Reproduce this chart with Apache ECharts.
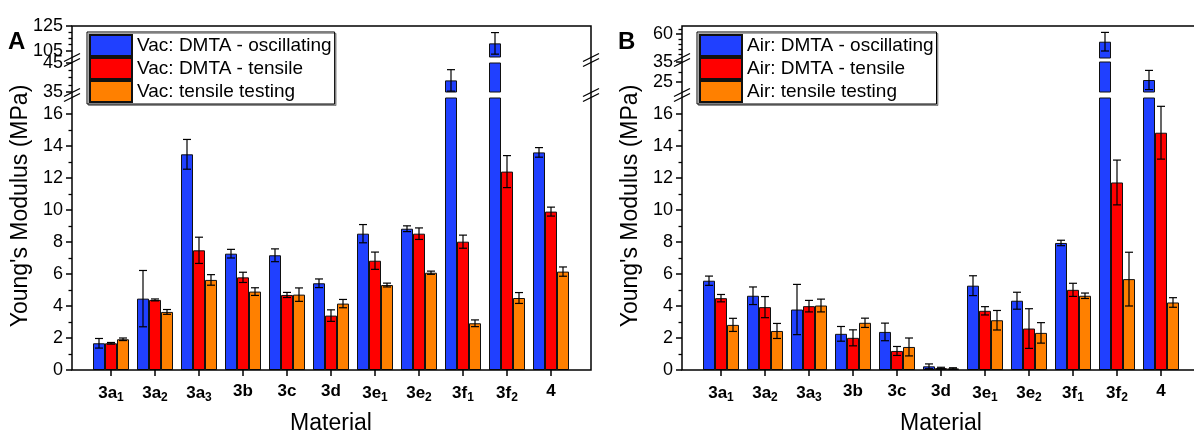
<!DOCTYPE html>
<html>
<head>
<meta charset="utf-8">
<script src="https://cdn.jsdelivr.net/npm/echarts@6/dist/echarts.min.js"></script>
<style>
html, body { margin: 0; padding: 0; background: #fff; }
#chart { width: 1194px; height: 435px; }
</style>
</head>
<body>
<div id="chart"></div>
<script>
// categories, '_' marks a subscript
const categories = ['3a_1', '3a_2', '3a_3', '3b', '3c', '3d', '3e_1', '3e_2', '3f_1', '3f_2', '4'];

// panel A (vacuum)
const vacNames = ['Vac: DMTA - oscillating', 'Vac: DMTA - tensile', 'Vac: tensile testing'];
const vacOsc = [1.67, 4.46, 13.48, 7.27, 7.17, 5.42, 8.52, 8.83, 39.0, 111.0, 13.6];
const vacOscErr = [0.30, 1.76, 0.93, 0.27, 0.40, 0.27, 0.57, 0.18, 3.7, 8.7, 0.30];
const vacTen = [1.67, 4.38, 7.48, 5.79, 4.69, 3.40, 6.83, 8.52, 8.02, 12.4, 9.90];
const vacTenErr = [0.05, 0.06, 0.82, 0.32, 0.16, 0.36, 0.54, 0.36, 0.41, 1.00, 0.28];
const vacTest = [1.92, 3.63, 5.63, 4.90, 4.71, 4.15, 5.31, 6.08, 2.92, 4.50, 6.15];
const vacTestErr = [0.08, 0.15, 0.33, 0.24, 0.42, 0.26, 0.12, 0.10, 0.21, 0.34, 0.29];

// panel B (air)
const airNames = ['Air: DMTA - oscillating', 'Air: DMTA - tensile', 'Air: tensile testing'];
const airOsc = [5.58, 4.64, 3.78, 2.26, 2.38, 0.23, 5.27, 4.33, 7.94, 52.3, 26.0];
const airOscErr = [0.29, 0.55, 1.57, 0.46, 0.55, 0.15, 0.62, 0.53, 0.17, 9.3, 4.8];
const airTen = [4.49, 3.93, 3.99, 2.01, 1.19, 0.12, 3.70, 2.59, 5.01, 11.72, 14.83];
const airTenErr = [0.23, 0.66, 0.36, 0.50, 0.28, 0.05, 0.26, 1.24, 0.41, 1.40, 1.65];
const airTest = [2.82, 2.44, 4.03, 2.95, 1.44, 0.10, 3.11, 2.32, 4.64, 5.68, 4.22];
const airTestErr = [0.41, 0.47, 0.40, 0.29, 0.56, 0.04, 0.61, 0.64, 0.17, 1.68, 0.30];

// broken y axis pieces, bottom to top: range, labelled ticks, minor ticks
const lowTicks = [0, 2, 4, 6, 8, 10, 12, 14, 16];
const lowMinor = [1, 3, 5, 7, 9, 11, 13, 15];
const vacRanges = [[0, 17], [35, 45], [100, 125]];
const vacTicks = [lowTicks, [35, 45], [105, 125]];
const vacMinor = [lowMinor, [37.5, 40, 42.5], [110, 115, 120]];
const airRanges = [[0, 17], [20, 35], [36, 68]];
const airTicks = [lowTicks, [25, 35], [60]];
const airMinor = [lowMinor, [30], [40, 45, 50, 55, 65]];

const colors = ['#2040ff', '#ff0000', '#ff8000'];
const font = 'Liberation Sans, Arial, sans-serif';
const barWidth = 12;

const panels = [
    {
        letter: 'A', axisX: 72, names: vacNames,
        values: [vacOsc, vacTen, vacTest], errors: [vacOscErr, vacTenErr, vacTestErr],
        ranges: vacRanges, ticks: vacTicks, minor: vacMinor,
        boxes: [{top: 98, height: 272}, {top: 63, height: 29}, {top: 26, height: 31}],
    },
    {
        letter: 'B', axisX: 682, names: airNames,
        values: [airOsc, airTen, airTest], errors: [airOscErr, airTenErr, airTestErr],
        ranges: airRanges, ticks: airTicks, minor: airMinor,
        boxes: [{top: 98, height: 272}, {top: 62, height: 30}, {top: 26, height: 32}],
    },
];

function errorRenderer(k) {
    return function (params, api) {
        let i = api.value(0), v = api.value(1), e = api.value(2);
        let top = api.coord([i, v + e]);
        let bot = api.coord([i, v - e]);
        let x = top[0] + (k - 1) * barWidth;
        let style = {stroke: '#000', lineWidth: 1.2};
        return {
            type: 'group',
            children: [
                {type: 'line', shape: {x1: x, y1: top[1], x2: x, y2: bot[1]}, style: style},
                {type: 'line', shape: {x1: x - 4, y1: top[1], x2: x + 4, y2: top[1]}, style: style},
                {type: 'line', shape: {x1: x - 4, y1: bot[1], x2: x + 4, y2: bot[1]}, style: style},
            ]
        };
    };
}

function breakMark(x, y) {
    let ls = {stroke: '#000', lineWidth: 1.3};
    return {
        type: 'group', z: 100,
        children: [
            {type: 'polygon', shape: {points: [[x - 8, y + 1.5], [x + 8, y - 6.5], [x + 8, y - 1.5], [x - 8, y + 6.5]]}, style: {fill: '#fff'}},
            {type: 'line', shape: {x1: x - 8, y1: y + 1.5, x2: x + 8, y2: y - 6.5}, style: ls},
            {type: 'line', shape: {x1: x - 8, y1: y + 6.5, x2: x + 8, y2: y - 1.5}, style: ls},
        ]
    };
}

let option = {
    animation: false,
    grid: [], xAxis: [], yAxis: [], series: [], legend: [], graphic: [],
};

for (let p of panels) {
    const frameW = 519;
    // frame box
    let g = option.grid.length;
    option.grid.push({left: p.axisX, top: 26, width: frameW, height: 344, show: true, outerBoundsMode: 'none',
        borderColor: '#000', borderWidth: 1.5, backgroundColor: 'transparent', z: 5});
    option.xAxis.push({gridIndex: g, type: 'value', show: false, min: 0, max: 1});
    option.yAxis.push({
        gridIndex: g, type: 'value', min: 0, max: 1,
        axisLine: {show: false}, axisTick: {show: false}, axisLabel: {show: false}, splitLine: {show: false},
        name: "Young's Modulus (MPa)", nameLocation: 'middle', nameGap: 40,
        nameTextStyle: {fontSize: 23, fontFamily: font, color: '#000', padding: [0, 16, 0, 0]},
    });

    for (let s = 0; s < 3; ++s) {
        let box = p.boxes[s];
        g = option.grid.length;
        option.grid.push({left: p.axisX + 17, width: 484, top: box.top, height: box.height, outerBoundsMode: 'none'});
        let xi = option.xAxis.length;
        option.xAxis.push({
            gridIndex: g, type: 'category', data: categories,
            show: s === 0,
            axisLine: {show: false},
            axisTick: {show: true, alignWithLabel: true, length: 6, lineStyle: {color: '#000', width: 1.5}},
            axisLabel: {
                interval: 0, margin: 13, color: '#000',
                formatter: function (c) {
                    let parts = c.split('_');
                    return parts[1] ? '{m|' + parts[0] + '}{s|' + parts[1] + '}' : '{m|' + parts[0] + '}';
                },
                rich: {
                    m: {fontSize: 17, fontWeight: 'bold', fontFamily: font, color: '#000'},
                    s: {fontSize: 12, fontWeight: 'bold', fontFamily: font, color: '#000', padding: [9, 0, 0, 0]},
                },
            },
            name: s === 0 ? 'Material' : '', nameLocation: 'middle', nameGap: 42,
            nameTextStyle: {fontSize: 23, fontFamily: font, color: '#000'},
        });
        let yi = option.yAxis.length;
        let r = p.ranges[s];
        option.yAxis.push({
            gridIndex: g, type: 'value', min: r[0], max: r[1], position: 'left', offset: 17,
            axisLine: {show: false},
            axisTick: {show: true, length: 6, customValues: p.ticks[s], lineStyle: {color: '#000', width: 1.5}},
            axisLabel: {customValues: p.ticks[s], margin: 9, fontSize: 18, fontFamily: font, color: '#000'},
            splitLine: {show: false},
        });
        option.yAxis.push({
            gridIndex: g, type: 'value', min: r[0], max: r[1], position: 'left', offset: 17,
            axisLine: {show: false},
            axisTick: {show: true, length: 3.5, customValues: p.minor[s], lineStyle: {color: '#000', width: 1.3}},
            axisLabel: {show: false},
            splitLine: {show: false},
        });

        for (let k = 0; k < 3; ++k) {
            option.series.push({
                type: 'bar', name: p.names[k], xAxisIndex: xi, yAxisIndex: yi,
                data: p.values[k], barWidth: barWidth, barGap: '0%', clip: true,
                itemStyle: {color: colors[k], borderColor: '#111', borderWidth: 1},
            });
        }
        for (let k = 0; k < 3; ++k) {
            option.series.push({
                type: 'custom', xAxisIndex: xi, yAxisIndex: yi, clip: true, z: 3,
                data: p.values[k].map((v, i) => [i, v, p.errors[k][i]]),
                encode: {x: 0, y: 1},
                renderItem: errorRenderer(k),
                silent: true,
            });
        }
    }

    option.legend.push({
        data: p.names, orient: 'vertical', left: p.axisX + 15, top: 32,
        itemWidth: 42, itemHeight: 21, itemGap: 0, padding: [2, 3, 1, 2],
        icon: 'rect', borderColor: '#000', borderWidth: 1, backgroundColor: '#fff',
        shadowColor: 'rgba(0,0,0,0.35)', shadowOffsetX: 1.5, shadowOffsetY: 1.5,
        textStyle: {fontSize: 19, fontFamily: font, color: '#000', lineHeight: 21},
        z: 20,
    });

    option.graphic.push({
        type: 'text', left: p.axisX - 64, top: 30, z: 50,
        style: {text: p.letter, font: 'bold 24px ' + font, fill: '#000'},
    });

    // break marks on both sides of the frame
    for (let s = 0; s < 2; ++s) {
        let y = (p.boxes[s].top + p.boxes[s + 1].top + p.boxes[s + 1].height) / 2;
        for (let x of [p.axisX, p.axisX + frameW]) {
            if (x < 1194) option.graphic.push(breakMark(x, y));
        }
    }
}

let myChart = echarts.init(document.getElementById('chart'));
myChart.setOption(option);
</script>
</body>
</html>
